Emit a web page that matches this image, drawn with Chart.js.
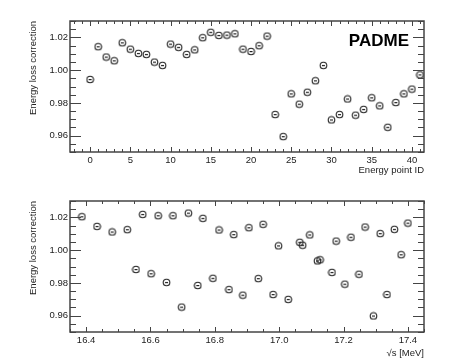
<!DOCTYPE html>
<html>
<head>
<meta charset="utf-8">
<script src="https://cdn.jsdelivr.net/npm/chart.js@4.4.0/dist/chart.umd.min.js"></script>
<style>
  html, body { margin: 0; padding: 0; background: #fff; }
  canvas { display: block; }
</style>
</head>
<body>
<canvas id="byId" width="476" height="180"></canvas>
<canvas id="byEnergy" width="476" height="181"></canvas>
<script>
// top panel: correction vs energy point ID
const pointIds = [0, 1, 2, 3, 4, 5, 6, 7, 8, 9, 10, 11, 12, 13, 14, 15, 16, 17, 18, 19, 20,
    21, 22, 23, 24, 25, 26, 27, 28, 29, 30, 31, 32, 33, 34, 35, 36, 37, 38, 39, 40, 41];
const corrById = [0.9943, 1.0143, 1.0080, 1.0057, 1.0167, 1.0128, 1.0102, 1.0096, 1.0049, 1.0029,
    1.0159, 1.0139, 1.0096, 1.0124, 1.0198, 1.0231, 1.0212, 1.0214, 1.0222, 1.0128, 1.0114,
    1.0149, 1.0208, 0.9729, 0.9594, 0.9855, 0.9792, 0.9865, 0.9935, 1.0029, 0.9696,
    0.9729, 0.9824, 0.9725, 0.9760, 0.9831, 0.9782, 0.9651, 0.9802, 0.9855, 0.9884, 0.9971];

// bottom panel: same corrections vs sqrt(s)
const sqrtS = [16.387, 16.434, 16.481, 16.528, 16.555, 16.576, 16.602, 16.624, 16.650, 16.670,
    16.697, 16.718, 16.747, 16.763, 16.794, 16.813, 16.844, 16.859, 16.887, 16.906, 16.935,
    16.950, 16.981, 16.998, 17.028, 17.064, 17.073, 17.095, 17.119, 17.127, 17.164, 17.177,
    17.204, 17.223, 17.248, 17.267, 17.293, 17.314, 17.335, 17.358, 17.379, 17.400];
const corrByEnergy = [1.0204, 1.0145, 1.0111, 1.0125, 0.9882, 1.0218, 0.9856, 1.0210, 0.9803, 1.0210,
    0.9652, 1.0226, 0.9784, 1.0194, 0.9828, 1.0123, 0.9759, 1.0095, 0.9725, 1.0137, 0.9826,
    1.0158, 0.9729, 1.0026, 0.9699, 1.0048, 1.0030, 1.0093, 0.9934, 0.9941, 0.9864, 1.0055,
    0.9792, 1.0079, 0.9853, 1.0141, 0.9598, 1.0101, 0.9729, 1.0127, 0.9972, 1.0165];

const idTicks = [0, 5, 10, 15, 20, 25, 30, 35, 40];
const energyTicks = [16.4, 16.6, 16.8, 17.0, 17.2, 17.4];
const corrTicks = [0.96, 0.98, 1.00, 1.02];

const FONT = "'Liberation Sans', Arial, Helvetica, sans-serif";
const INK = '#222';

// open circle with a short bar in the middle, like the ROOT marker
function makeMarker() {
    const c = document.createElement('canvas');
    c.width = 9;
    c.height = 9;
    const g = c.getContext('2d');
    g.strokeStyle = INK;
    g.lineWidth = 1.1;
    g.beginPath();
    g.arc(4.5, 4.5, 3.3, 0, Math.PI * 2);
    g.stroke();
    g.fillStyle = INK;
    g.fillRect(3, 4, 3, 1.2);
    return c;
}
const marker = makeMarker();

// frame plus inward ticks on all four sides
const frameTicks = {
    id: 'frameTicks',
    afterDraw(chart, args, opts) {
        const { ctx, chartArea: a, scales: { x, y } } = chart;
        ctx.save();
        ctx.strokeStyle = '#444';
        ctx.lineWidth = 1;
        ctx.beginPath();
        const walk = (scale, minor, major, fn) => {
            const start = Math.ceil(scale.min / minor - 1e-6);
            for (let i = start; i * minor <= scale.max + 1e-9; i++) {
                const v = i * minor;
                const isMajor = Math.abs(v / major - Math.round(v / major)) < 1e-6;
                fn(Math.round(scale.getPixelForValue(v)) + 0.5, isMajor);
            }
        };
        walk(x, opts.xMinor, opts.xMajor, (px, big) => {
            const len = big ? 5 : 3;
            ctx.moveTo(px, a.bottom); ctx.lineTo(px, a.bottom - len);
            ctx.moveTo(px, a.top); ctx.lineTo(px, a.top + len);
        });
        walk(y, 0.005, 0.02, (py, big) => {
            const len = big ? 11 : 6;
            ctx.moveTo(a.left, py); ctx.lineTo(a.left + len, py);
            ctx.moveTo(a.right, py); ctx.lineTo(a.right - len, py);
        });
        ctx.stroke();
        ctx.lineWidth = 1.5;
        ctx.strokeRect(a.left, a.top, a.right - a.left, a.bottom - a.top);

        if (opts.tag) {
            ctx.fillStyle = '#000';
            ctx.font = 'bold 17px ' + FONT;
            ctx.textAlign = 'right';
            ctx.textBaseline = 'alphabetic';
            ctx.fillText(opts.tag, a.right - 15, a.top + 25);
        }
        ctx.restore();
    }
};

function panel(canvasId, xs, ys, cfg) {
    return new Chart(document.getElementById(canvasId), {
        type: 'scatter',
        data: {
            datasets: [{
                data: xs.map((v, i) => ({ x: v, y: ys[i] })),
                pointStyle: marker,
                showLine: false
            }]
        },
        options: {
            responsive: false,
            animation: false,
            layout: { padding: { top: 21, right: 52, left: 0, bottom: 0 } },
            plugins: {
                legend: { display: false },
                tooltip: { enabled: false },
                frameTicks: { xMinor: cfg.xMinor, xMajor: cfg.xMajor, tag: cfg.tag }
            },
            scales: {
                x: {
                    type: 'linear',
                    min: cfg.xMin,
                    max: cfg.xMax,
                    afterBuildTicks: s => { s.ticks = cfg.xTicks.map(value => ({ value })); },
                    afterFit: s => { s.height = cfg.xHeight; },
                    grid: { display: false, drawTicks: false },
                    border: { display: false },
                    ticks: {
                        autoSkip: false,
                        maxRotation: 0,
                        padding: 3,
                        color: INK,
                        font: { family: FONT, size: 9.5 },
                        callback: v => v.toFixed(cfg.xDecimals)
                    },
                    title: {
                        display: true,
                        text: cfg.xTitle,
                        align: 'end',
                        color: INK,
                        font: { family: FONT, size: 9.5 },
                        padding: { top: 0, bottom: cfg.titlePad }
                    }
                },
                y: {
                    min: 0.95,
                    max: 1.03,
                    afterBuildTicks: s => { s.ticks = corrTicks.map(value => ({ value })); },
                    afterFit: s => { s.width = 70; },
                    grid: { display: false, drawTicks: false },
                    border: { display: false },
                    ticks: {
                        padding: 2,
                        color: INK,
                        font: { family: FONT, size: 9.5 },
                        callback: v => v.toFixed(2)
                    },
                    title: {
                        display: true,
                        text: 'Energy loss correction',
                        align: 'end',
                        color: INK,
                        font: { family: FONT, size: 9.5 },
                        padding: { top: 28, bottom: 0 }
                    }
                }
            }
        },
        plugins: [frameTicks]
    });
}

panel('byId', pointIds, corrById, {
    xMin: -2.5, xMax: 41.5, xTicks: idTicks, xDecimals: 0, xMinor: 1, xMajor: 5,
    xTitle: 'Energy point ID', xHeight: 28, titlePad: 4, tag: 'PADME'
});
panel('byEnergy', sqrtS, corrByEnergy, {
    xMin: 16.35, xMax: 17.45, xTicks: energyTicks, xDecimals: 1, xMinor: 0.05, xMajor: 0.2,
    xTitle: '\u221As [MeV]', xHeight: 29, titlePad: 2
});
</script>
</body>
</html>
